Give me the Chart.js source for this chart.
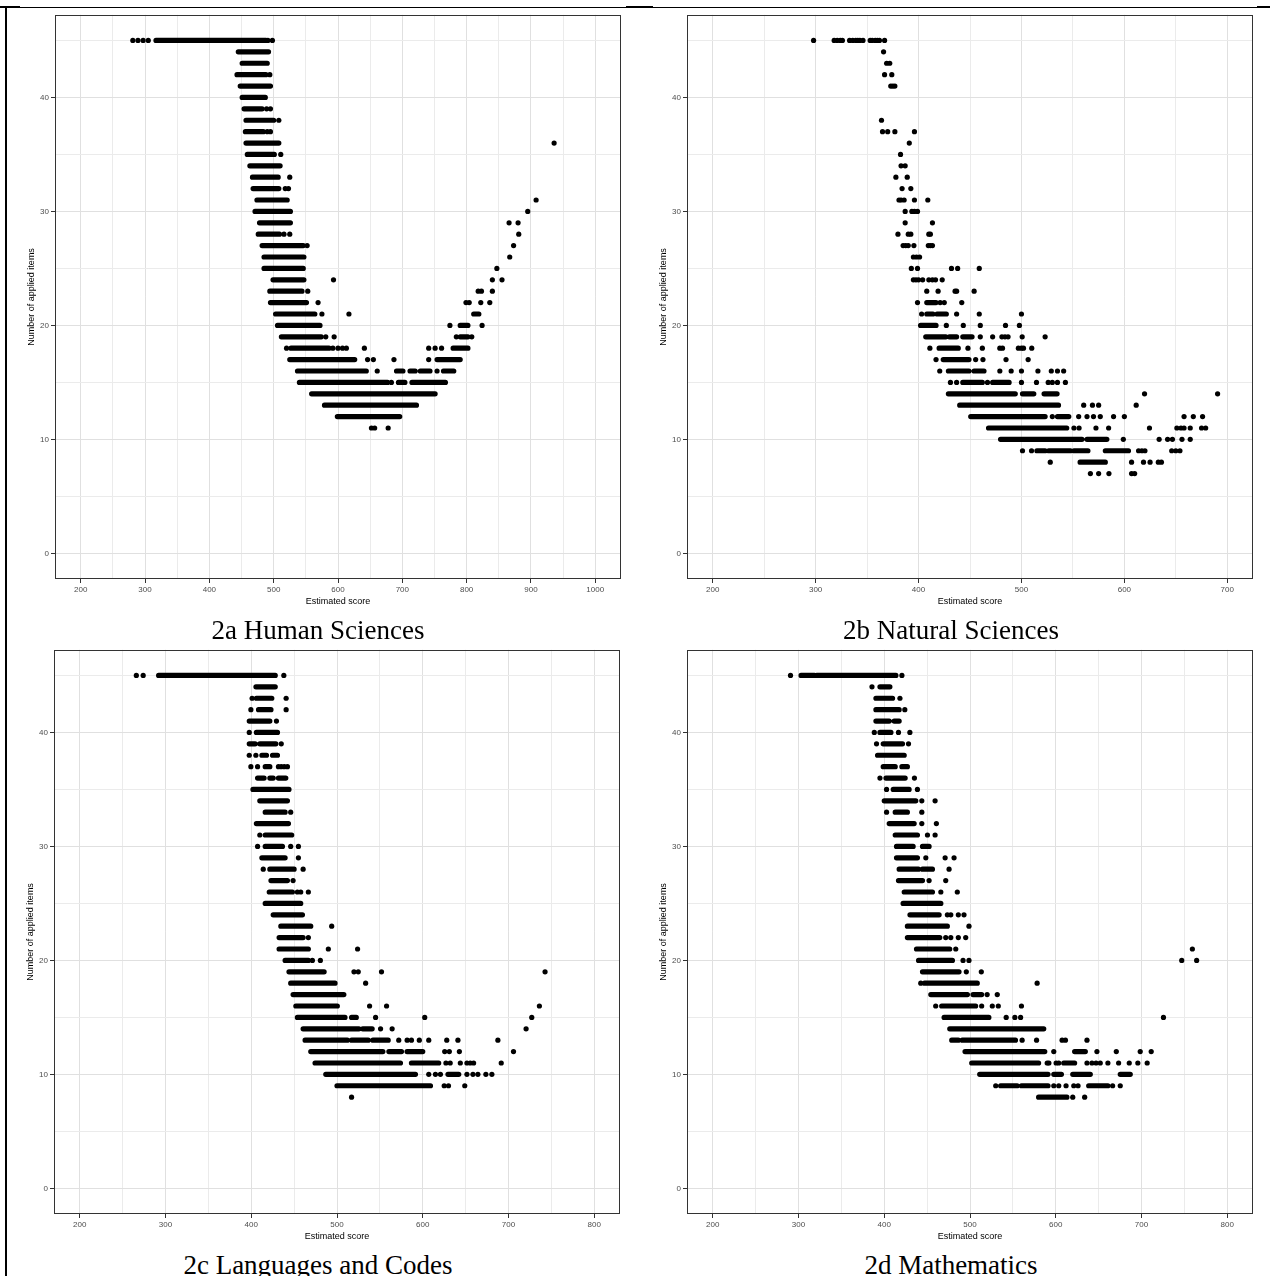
<!DOCTYPE html>
<html>
<head>
<meta charset="utf-8">
<script src="https://cdn.jsdelivr.net/npm/chart.js@4.4.0/dist/chart.umd.min.js"></script>
<style>
  body { margin: 0; background: #fff; width: 1270px; height: 1276px; position: relative; overflow: hidden; }
  canvas.panel { position: absolute; }
  .cap { position: absolute; width: 634px; text-align: center; font-family: "Liberation Serif", "Times New Roman", serif; font-size: 27px; line-height: 30px; color: #000; }
  .rule { position: absolute; background: #000; }
</style>
</head>
<body>
<!-- table borders around the four figure cells -->
<div class="rule" style="left:5px; top:6px; width:2px; height:1270px;"></div>
<div class="rule" style="left:0; top:6px; width:20px; height:2px;"></div>
<div class="rule" style="left:20px; top:7px; width:606px; height:1px;"></div>
<div class="rule" style="left:626px; top:6px; width:27px; height:2px;"></div>
<div class="rule" style="left:653px; top:7px; width:604px; height:1px;"></div>
<div class="rule" style="left:1257px; top:6px; width:13px; height:2px;"></div>

<canvas class="panel" id="hs" width="606" height="603" style="left:21px; top:8px;"></canvas>
<canvas class="panel" id="ns" width="606" height="603" style="left:653px; top:8px;"></canvas>
<canvas class="panel" id="lc" width="606" height="603" style="left:20px; top:643px;"></canvas>
<canvas class="panel" id="mt" width="606" height="603" style="left:653px; top:643px;"></canvas>

<div class="cap" style="left:1px; top:615px;">2a Human Sciences</div>
<div class="cap" style="left:634px; top:615px;">2b Natural Sciences</div>
<div class="cap" style="left:1px; top:1250px;">2c Languages and Codes</div>
<div class="cap" style="left:634px; top:1250px;">2d Mathematics</div>

<script>
// each row: [items applied, entries]; a number is one student, a pair [a, b] is a packed run of students from a to b
const hsRows = [
  [45, [281, 289, 297, 305, [317, 488], 491, 498]],
  [44, [[445, 492]]],
  [43, [[451, 490]]],
  [42, [[443, 488], 494]],
  [41, [[448, 495]]],
  [40, [[451, 487]]],
  [39, [[454, 482], 489, 495]],
  [38, [[457, 500], 508]],
  [37, [[456, 484], 490, 495]],
  [36, [[457, 508], 936]],
  [35, [[459, 501], 511]],
  [34, [[463, 510]]],
  [33, [[467, 507], 525]],
  [32, [[468, 508], 518, 523]],
  [31, [[474, 521], 908]],
  [30, [[471, 526], 895]],
  [29, [[478, 526], 866, 880]],
  [28, [[476, 509], 516, 525, 881]],
  [27, [[482, 546], 552, 873]],
  [26, [[485, 547], 867]],
  [25, [[485, 546], 847]],
  [24, [[499, 547], 593, 840, 855]],
  [23, [[494, 544], 553, 818, 823, 840]],
  [22, [[495, 551], 569, 799, 804, 822, 836]],
  [21, [[503, 564], 575, 617, [811, 819]]],
  [20, [[506, 572], 774, [790, 802], 824]],
  [19, [[512, 574], 581, 594, 784, [790, 802], 808]],
  [18, [520, [527, 586], 592, 600, 607, 613, 641, 741, 751, 761, [779, 802]]],
  [17, [[525, 626], 646, 655, 687, 741, [754, 790]]],
  [16, [[537, 644], 661, [691, 701], [712, 720], [728, 743], 754, [764, 780]]],
  [15, [[540, 677], 683, [694, 704], [715, 767]]],
  [14, [[559, 751]]],
  [13, [[579, 722]]],
  [12, [[599, 696]]],
  [11, [652, 657, 678]]
];

const nsRows = [
  [45, [298, 318, 321, 324, 326, 333, 336, 339, 341, 343, 346, 353, 355, 358, 360, 362, 367]],
  [44, [366]],
  [43, [369, 372]],
  [42, [367, 374]],
  [41, [373, 375, 377]],
  [38, [364]],
  [37, [365, 370, 377, 396]],
  [36, [391]],
  [35, [382.5]],
  [34, [383, 387]],
  [33, [378, 389]],
  [32, [384, 392.5]],
  [31, [381, 383, 386, 396, 409]],
  [30, [387, 393.5, 396, 399]],
  [29, [387, 413.5]],
  [28, [380, 390, 392.5, 410, 411.5]],
  [27, [385, 387.5, 390, 395.5, 409.5, 411.5, 413.5]],
  [26, [395, 398, 401]],
  [25, [393, 399, 432, 438, 459]],
  [24, [395, 397.5, 400, 404, 410, 413.5, 416.5, 423]],
  [23, [408, 419, 435.5, 437, 454]],
  [22, [399, [408, 417], 421, 425, 442]],
  [21, [403, [408, 414], [418, 427], 437, 459, 500]],
  [20, [[402, 417], 427, 443.5, 460, 484.5, 498]],
  [19, [[407, 426.5], [430, 437], [443, 452], 460, 472, 481, 484, 487, 500.7, 523]],
  [18, [411, [420, 438.6], 448, 462, 479, 481.6, 497, 500, 502, 510]],
  [17, [417, [424, 449], 455.5, 462.6, 485, 506.5]],
  [16, [420.6, [429, 449], [454, 463.6], 479, 490, 500, 516, 529, 535, 541]],
  [15, [431, 437, [443, 462], 467, [472, 488], 500, 514.6, 526, 530, 535, 542.7]],
  [14, [[429, 494], [501, 512], [522, 534.6], 619.6, 690.6]],
  [13, [[440, 536], 560.5, 569, 575, 611.5]],
  [12, [[450.7, 523], 530, [535, 546], 555.6, 563.7, 570, 576.6, 589.5, 600, 658, 667, 676]],
  [11, [[468, 544], 551, 556, 572.4, 584.7, 624.4, 651, 655, 658, 664, 675, 679]],
  [10, [[479.7, 558.8], [563.7, 583], 599, 633.8, 642, 646.7, 656, 664]],
  [9, [501, 509.8, [515, 523], [526.5, 547.6], [551, 564.6], [581.5, 604], 613.8, 617, 620, 646, 650, 654]],
  [8, [528, [557, 581.5], 607, 618.6, 625, 633, 636]],
  [7, [567, 575, 585, 607, 610]]
];

const lcRows = [
  [45, [266, 274, [292, 428], 438]],
  [44, [[405.5, 428]]],
  [43, [401, [406, 424], 440.7]],
  [42, [399.6, [408.5, 423], 440.7]],
  [41, [[397.7, 421.7], 429.4]],
  [40, [397.7, [406, 430.6]]],
  [39, [[397.7, 404.6], [410, 428.7], 435]],
  [38, [397.7, 405.4, [412.4, 417.8], [424.8, 430.6]]],
  [37, [399.6, 407.4, [416.3, 421.7], 431.7, 435, 438.5, 442.2]],
  [36, [[407.4, 415], [421.7, 425.6], [431.7, 440.3]]],
  [35, [[402, 444]]],
  [34, [[410, 442.2]]],
  [33, [[416.3, 439.5], 446]],
  [32, [[406, 443.4]]],
  [31, [410, [416.3, 447.2]]],
  [30, [407.4, [416.3, 436.4], 446, 455]],
  [29, [[412.4, 439.5], 455]],
  [28, [414, [421.7, 450], 460.5]],
  [27, [[423, 442.2], 448.8]],
  [26, [[421, 448], 453.8, 457.7, 466.6]],
  [25, [[416.3, 457.7]]],
  [24, [[425.6, 459.7]]],
  [23, [[434.5, 469.4], 493.8]],
  [22, [[432.5, 460.5], 466.6]],
  [21, [[432.5, 466.6], 489.9, 524]],
  [20, [[439.5, 466.6], 471.3, 480.6]],
  [19, [[444, 485], 519.8, 524.8, 551.9, 742.6]],
  [18, [[446, 497.7], 533.4]],
  [17, [[448.8, 508]]],
  [16, [[452, 500.4], 538, 557.8, 736]],
  [15, [[453.8, 509.3], [517, 522.5], 545, 602.3, 727.1]],
  [14, [[460.5, 525.6], [530, 541], 550.8, 564.3, 720.5]],
  [13, [[462.8, 512], [517, 536.4], [541.9, 559.7], 572, 581.8, 586.8, 596, 607, 628, 641, 687.6]],
  [12, [[469.4, 553.5], [560.5, 575.2], [581.7, 600], 625.6, 631, 642.7, 705.8]],
  [11, [[474.4, 574], [586.8, 618.6], 627, 632, 643.8, 651.5, 655.4, 659.3, 691.5]],
  [10, [[486.9, 591.5], 607, 614.8, 620.6, [629.4, 642], 651.5, 658.5, 664.3, 673.6, 680.6]],
  [9, [[500, 609], 625, 630, 649]],
  [8, [517]]
];

const mtRows = [
  [45, [290.7, [303, 318.6], [321.3, 413.6], 420.6]],
  [44, [385.7, [395, 406.6]]],
  [43, [[390.3, 409.7], 418.3]],
  [42, [[390.3, 417.4], 424]],
  [41, [[390.3, 405.8], [411.6, 417.4]]],
  [40, [388.4, [395, 407.8], 416.6, 429.9]],
  [39, [391, [398.8, 421.3], 428.3]],
  [38, [[392.2, 423.3]]],
  [37, [[398.8, 412.8], [420.6, 427]]],
  [36, [395, [402, 424.4], 435.2]],
  [35, [402.7, [410.5, 429], 438.7]],
  [34, [[400, 436.8], 443.8, 459.3]],
  [33, [402.7, [412.8, 427], 443.8]],
  [32, [[405.8, 434.9], 443.8, 460.8]],
  [31, [[412.8, 438.7], 450.4, 459.3]],
  [30, [[414.3, 433.7], [444.6, 452.3]]],
  [29, [[414.3, 438.7], 448.5, 471, 481.4]],
  [28, [[417.4, 439.9], [444.6, 456.2], 475.6]],
  [27, [[416.6, 444.6], 452.3, 471.7]],
  [26, [[423.3, 456.2], 466, 485.2]],
  [25, [[422, 466]]],
  [24, [[430, 464], 473.6, 477.6, 486.4, 493]],
  [23, [[427, 473.6], 498.8]],
  [22, [[427, 464.8], 471.7, 477.6, 486.4, 495]],
  [21, [[437.6, 476.4], 483.4, 759.3]],
  [20, [[440, 479.5], 491.9, 498.8, 746.9, 764.3]],
  [19, [[444.6, 487.2], 495.7, 513.2]],
  [18, [442.6, [447, 508.5], 578.3]],
  [17, [[454.3, 497], [503.5, 513.6], 520, 531.8]],
  [16, [460, [467, 506.6], 513.6, 526, 533, 560]],
  [15, [[469.8, 522], 542.2, 552.3, 559, 725.6]],
  [14, [[476.4, 586]]],
  [13, [[478.7, 486.4], [491, 553], 560.8, 577.6, 607.4, 611.3, 636.4]],
  [12, [[494.2, 587.2], 597.7, [622, 634.5], 648, 670.6, 698.5, 711.3]],
  [11, [[502, 580], 590, 592, 600.4, 603.5, [609.3, 622], 636.4, 642.2, 647, 651.9, 660.8, 673.3, 685.7, 695.7, 706.6]],
  [10, [[511.3, 591], [597.7, 606.6], [619.8, 640.3], [675.2, 686.9]]],
  [9, [530, [535.7, 555], [560, 591], 597.7, 603.5, 612, 621, 626, [638.4, 660.8], 666.3, 675.2]],
  [8, [[580, 613], 619.8, 633.7]]
];

// axis breaks: labelled every 100 / 10, light grid lines halfway between
const yTicks = [0, 5, 10, 15, 20, 25, 30, 35, 40, 45];
const xTicksWide = [200, 250, 300, 350, 400, 450, 500, 550, 600, 650, 700, 750, 800, 850, 900, 950, 1000];
const xTicks700 = [200, 250, 300, 350, 400, 450, 500, 550, 600, 650, 700];
const xTicks800 = [200, 250, 300, 350, 400, 450, 500, 550, 600, 650, 700, 750, 800];

const sans = '"Liberation Sans", Arial, sans-serif';

const panelFrame = {
  id: 'panelFrame',
  afterDraw(chart) {
    const { ctx, chartArea: a } = chart;
    ctx.save();
    ctx.strokeStyle = '#333333';
    ctx.lineWidth = 1;
    ctx.strokeRect(Math.round(a.left) + 0.5, Math.round(a.top) + 0.5, Math.round(a.width) - 1, Math.round(a.height) - 1);
    ctx.restore();
  }
};

function splitRows(rows) {
  const runs = [];
  const dots = [];
  rows.forEach(([y, items]) => {
    items.forEach(it => {
      if (Array.isArray(it)) {
        runs.push({ x: it[0], y: y }, { x: it[1], y: y }, { x: it[1], y: null });
      } else {
        dots.push({ x: it, y: y });
      }
    });
  });
  return { runs, dots };
}

function isMajor(v, step) {
  return Math.abs(v / step - Math.round(v / step)) < 1e-6;
}

function gridColor(step) {
  return ctx => (ctx.tick && isMajor(ctx.tick.value, step)) ? '#e0e0e0' : '#ebebeb';
}
function tickColor(step) {
  return ctx => (ctx.tick && isMajor(ctx.tick.value, step)) ? '#333333' : 'rgba(0,0,0,0)';
}

function makePanel(id, rows, xMin, xMax, xTicks) {
  const { runs, dots } = splitRows(rows);
  new Chart(document.getElementById(id), {
    type: 'scatter',
    data: {
      datasets: [
        {
          data: runs,
          showLine: true,
          spanGaps: false,
          borderColor: '#000',
          borderWidth: 5.2,
          borderCapStyle: 'round',
          pointRadius: 0,
          tension: 0
        },
        {
          data: dots,
          pointRadius: 2.6,
          pointBackgroundColor: '#000',
          pointBorderWidth: 0
        }
      ]
    },
    options: {
      responsive: false,
      animation: false,
      devicePixelRatio: 1,
      layout: { padding: { top: 4, right: 6, left: 0, bottom: 0 } },
      plugins: { legend: { display: false }, tooltip: { enabled: false } },
      scales: {
        x: {
          type: 'linear',
          min: xMin,
          max: xMax,
          afterBuildTicks: axis => { axis.ticks = xTicks.map(v => ({ value: v })); },
          afterFit: axis => { axis.height = 32; },
          border: { display: false },
          grid: { color: gridColor(100), lineWidth: 1, tickLength: 4, tickColor: tickColor(100) },
          ticks: {
            autoSkip: false, maxRotation: 0, padding: 2, color: '#4d4d4d',
            font: { family: sans, size: 8 },
            callback: v => isMajor(v, 100) ? String(v) : ''
          },
          title: { display: true, text: 'Estimated score', color: '#000', font: { family: sans, size: 9 }, padding: { top: 0, bottom: 4 } }
        },
        y: {
          type: 'linear',
          min: -2.25,
          max: 47.25,
          afterBuildTicks: axis => { axis.ticks = yTicks.map(v => ({ value: v })); },
          afterFit: axis => { axis.width = 34; },
          border: { display: false },
          grid: { color: gridColor(10), lineWidth: 1, tickLength: 4, tickColor: tickColor(10) },
          ticks: {
            autoSkip: false, padding: 2, color: '#4d4d4d',
            font: { family: sans, size: 8 },
            callback: v => isMajor(v, 10) ? String(v) : ''
          },
          title: { display: true, text: 'Number of applied items', color: '#000', font: { family: sans, size: 9 }, padding: { top: 5, bottom: 0 } }
        }
      }
    },
    plugins: [panelFrame]
  });
}

makePanel('hs', hsRows, 160, 1040, xTicksWide);
makePanel('ns', nsRows, 175, 725, xTicks700);
makePanel('lc', lcRows, 170, 830, xTicks800);
makePanel('mt', mtRows, 170, 830, xTicks800);
</script>
</body>
</html>
